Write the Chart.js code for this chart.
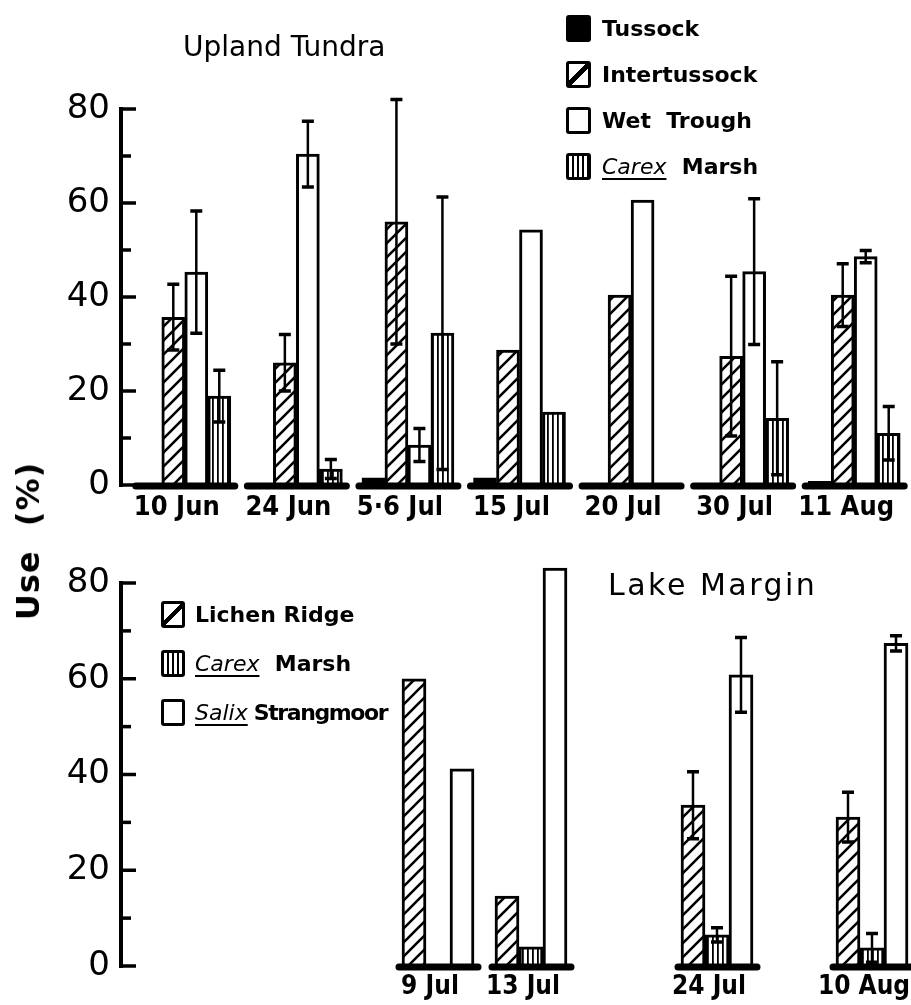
<!DOCTYPE html>
<html>
<head>
<meta charset="utf-8">
<script src="https://cdn.jsdelivr.net/npm/chart.js@4.4.1/dist/chart.umd.min.js"></script>
<style>
  html, body { margin: 0; padding: 0; background: #fff; }
  body { width: 911px; height: 1005px; position: relative; overflow: hidden; font-family: "DejaVu Sans", sans-serif; color: #000; }
  canvas { position: absolute; left: 0; }
  .title { position: absolute; white-space: nowrap; line-height: 1; }
  .legend { position: absolute; font-weight: bold; font-size: 22px; }
  .legend .row { display: flex; align-items: center; white-space: pre; }
  .sw { flex: none; display: inline-block; box-sizing: border-box; border: 3.5px solid #000; border-radius: 3px; background: #fff; }
  .sw.solid { background: #000; }
  .sw.hatch { background: linear-gradient(135deg, #fff 42%, #000 42%, #000 58%, #fff 58%); }
  .sw.lines { background: repeating-linear-gradient(90deg, #fff 0 3px, #000 3px 5px); }
  .it { font-style: italic; font-weight: normal; text-decoration: underline; text-decoration-thickness: 2px; text-underline-offset: 4px; }
  #ylab { position: absolute; left: 28px; top: 541px; transform: translate(-50%, -50%) rotate(-90deg); font-weight: bold; font-size: 32px; white-space: pre; letter-spacing: 1px; line-height: 1; }
</style>
</head>
<body>
<canvas id="upland" width="911" height="530" style="top:0"></canvas>
<canvas id="lake" width="911" height="485" style="top:520px"></canvas>

<div class="title" style="left:183px; top:33px; font-size:28px;">Upland Tundra</div>
<div class="title" style="left:608px; top:570px; font-size:30px; letter-spacing:2.5px;">Lake Margin</div>
<div id="ylab">Use  (%)</div>

<div class="legend" style="left:566px; top:5px;">
  <div class="row" style="height:46px"><span class="sw solid" style="width:25px;height:27px;margin-right:11px"></span>Tussock</div>
  <div class="row" style="height:46px"><span class="sw hatch" style="width:25px;height:27px;margin-right:11px"></span>Intertussock</div>
  <div class="row" style="height:46px"><span class="sw" style="width:25px;height:27px;margin-right:11px"></span>Wet  Trough</div>
  <div class="row" style="height:46px"><span class="sw lines" style="width:25px;height:27px;margin-right:11px"></span><span class="it">Carex</span>  Marsh</div>
</div>

<div class="legend" style="left:161px; top:590px;">
  <div class="row" style="height:49px"><span class="sw hatch" style="width:24px;height:27px;margin-right:10px"></span>Lichen Ridge</div>
  <div class="row" style="height:49px"><span class="sw lines" style="width:24px;height:27px;margin-right:10px"></span><span class="it">Carex</span>  Marsh</div>
  <div class="row" style="height:49px"><span class="sw" style="width:24px;height:27px;margin-right:10px"></span><span class="it">Salix</span><span style="letter-spacing:-1.4px; margin-left:6px">Strangmoor</span></div>
</div>

<script>
// Upland Tundra panel
const uplandDates = ['10 Jun', '24 Jun', '5·6 Jul', '15 Jul', '20 Jul', '30 Jul', '11 Aug'];
const tussock = [0, 0, 1.5, 1.5, 0, 0, 0.8];
const intertussock = [35.7, 26, 56, 28.7, 40.4, 27.4, 40.4];
const intertussockErr = [7, 6, 26, null, null, 17, 6.7];
const wetTrough = [45.3, 70.4, 8.5, 54.3, 60.6, 45.4, 48.6];
const wetTroughErr = [13, 7, 3.5, null, null, 15.5, 1.3];
const carexUpland = [18.9, 3.4, 32.3, 15.5, 0, 14.2, 11];
const carexUplandErr = [5.5, 2, 29, null, null, 12, 5.7];

// Lake Margin panel
const lakeDates = ['9 Jul', '13 Jul', '24 Jul', '10 Aug'];
const lichenRidge = [60, 14.6, 33.6, 31.1];
const lichenRidgeErr = [null, null, 7, 5.2];
const carexLake = [0, 4, 6.5, 3.8];
const carexLakeErr = [null, null, 1.5, 3];
const salixStrangmoor = [41.2, 83.1, 60.8, 67.4];
const salixStrangmoorErr = [null, null, 7.8, 1.6];

const yTicks = [0, 20, 40, 60, 80];

// lake margin dates sit on an uneven spacing: slot index per date on a finer category grid
const lakeSlots = [9, 12, 18, 23];
const lakeSlotCount = 24;

const DATE_FONT = "'DejaVu Sans Condensed', 'Liberation Sans Narrow', 'DejaVu Sans'";

function hatch() {
  const c = document.createElement('canvas');
  c.width = c.height = 14;
  const g = c.getContext('2d');
  g.fillStyle = '#fff';
  g.fillRect(0, 0, 14, 14);
  g.strokeStyle = '#000';
  g.lineWidth = 2.6;
  g.beginPath();
  g.moveTo(-1, 15); g.lineTo(15, -1);
  g.moveTo(-2, 2); g.lineTo(2, -2);
  g.moveTo(12, 16); g.lineTo(16, 12);
  g.stroke();
  return g.createPattern(c, 'repeat');
}

function vlines() {
  const c = document.createElement('canvas');
  c.width = 5; c.height = 5;
  const g = c.getContext('2d');
  g.fillStyle = '#fff';
  g.fillRect(0, 0, 5, 5);
  g.fillStyle = '#000';
  g.fillRect(2, 0, 1.8, 5);
  return g.createPattern(c, 'repeat');
}

const HATCH = hatch();
const VLINES = vlines();

// axis line, minor ticks, group baselines and error bars
const panelPlugin = {
  id: 'panel',
  afterDatasetsDraw(chart, args, opts) {
    const ctx = chart.ctx;
    const xs = chart.scales.x, ys = chart.scales.y;
    const y0 = ys.getPixelForValue(0);
    const nSets = chart.data.datasets.length;
    const half = nSets * opts.barW / 2;
    ctx.save();
    ctx.strokeStyle = '#000';
    ctx.lineCap = 'round';

    // baselines under each date group
    ctx.lineWidth = 7;
    chart.data.labels.forEach((lab, i) => {
      if (!lab) return;
      const cx = xs.getPixelForValue(i);
      ctx.beginPath();
      ctx.moveTo(cx - half - 3, y0 + 1);
      ctx.lineTo(cx + half + 4, y0 + 1);
      ctx.stroke();
    });

    // error bars
    chart.data.datasets.forEach((ds, di) => {
      if (!ds.errors) return;
      const meta = chart.getDatasetMeta(di);
      ds.data.forEach((v, i) => {
        const e = ds.errors[i];
        if (v == null || e == null) return;
        const x = meta.data[i].x;
        const yt = ys.getPixelForValue(v + e);
        const yb = ys.getPixelForValue(Math.max(v - e, 0));
        ctx.lineCap = 'butt';
        ctx.lineWidth = 2.5;
        ctx.beginPath();
        ctx.moveTo(x, yt); ctx.lineTo(x, yb);
        ctx.stroke();
        ctx.lineWidth = 3.5;
        ctx.beginPath();
        ctx.moveTo(x - 6, yt); ctx.lineTo(x + 6, yt);
        ctx.moveTo(x - 6, yb); ctx.lineTo(x + 6, yb);
        ctx.stroke();
      });
    });

    // y axis with inward ticks every 10
    const ax = opts.axisX;
    const yTop = ys.getPixelForValue(ys.max);
    ctx.lineCap = 'butt';
    ctx.lineWidth = 4;
    ctx.beginPath();
    ctx.moveTo(ax, y0 + 2);
    ctx.lineTo(ax, yTop - 2);
    ctx.stroke();
    ctx.lineWidth = 3.5;
    for (let v = ys.min; v <= ys.max; v += 10) {
      const py = ys.getPixelForValue(v);
      const len = v % 20 === 0 ? 15 : 10;
      ctx.beginPath();
      ctx.moveTo(ax - 2, py);
      ctx.lineTo(ax + len, py);
      ctx.stroke();
    }
    ctx.restore();
  }
};

function barSet(label, data, errors, fill) {
  return {
    label, data, errors,
    backgroundColor: fill,
    borderColor: '#000',
    borderWidth: 3,
    borderSkipped: 'bottom',
    clip: false
  };
}

function makeOptions(cfg) {
  return {
    responsive: false,
    animation: false,
    devicePixelRatio: 1,
    layout: { padding: { top: cfg.area.top, right: cfg.width - cfg.area.right, left: 0, bottom: 0 } },
    datasets: { bar: { barThickness: cfg.barW, grouped: true } },
    plugins: {
      legend: { display: false },
      tooltip: { enabled: false },
      panel: { axisX: 121, barW: cfg.barW }
    },
    scales: {
      x: {
        grid: { display: false, drawTicks: false },
        border: { display: false },
        ticks: {
          autoSkip: false, maxRotation: 0, color: '#000',
          padding: cfg.xPad, labelOffset: cfg.labelOffset,
          font: { family: DATE_FONT, size: cfg.xFont, weight: 'bold' }
        },
        afterFit(s) {
          s.height = cfg.xHeight;
          s.paddingLeft = 0; s.paddingRight = 0;
        }
      },
      y: {
        min: 0, max: 80,
        grid: { display: false, drawTicks: false },
        border: { display: false },
        afterBuildTicks(s) { s.ticks = yTicks.map(v => ({ value: v })); },
        ticks: {
          color: '#000', padding: cfg.area.left - 110,
          font: { family: 'DejaVu Sans', size: 34 }
        },
        afterFit(s) {
          s.width = cfg.yWidth;
          s.paddingTop = 0; s.paddingBottom = 0;
        }
      }
    }
  };
}

// nudge the fitted box sizes until the plot area lands where the figure has it
function pinArea(chart, cfg) {
  for (let k = 0; k < 4; k++) {
    const a = chart.chartArea;
    const dB = a.bottom - cfg.area.bottom;
    const dL = cfg.area.left - a.left;
    const dT = cfg.area.top - a.top;
    const dR = a.right - cfg.area.right;
    if (Math.abs(dB) + Math.abs(dL) + Math.abs(dT) + Math.abs(dR) < 0.5) break;
    cfg.xHeight += dB;
    cfg.yWidth += dL;
    const p = chart.options.layout.padding;
    p.top += dT;
    p.right += dR;
    chart.update();
  }
}

const uplandCfg = {
  width: 911, area: { left: 129, right: 910, top: 109, bottom: 485 },
  xHeight: 45, yWidth: 129, xPad: 7, xFont: 27, labelOffset: -8, barW: 23
};
const uplandChart = new Chart(document.getElementById('upland'), {
  type: 'bar',
  plugins: [panelPlugin],
  data: {
    labels: uplandDates,
    datasets: [
      barSet('Tussock', tussock, null, '#000'),
      barSet('Intertussock', intertussock, intertussockErr, HATCH),
      barSet('Wet Trough', wetTrough, wetTroughErr, '#fff'),
      barSet('Carex Marsh', carexUpland, carexUplandErr, VLINES)
    ]
  },
  options: makeOptions(uplandCfg)
});
pinArea(uplandChart, uplandCfg);

// spread the lake margin dates over their slots
const lakeLabels = Array(lakeSlotCount).fill('');
function spread(arr) {
  const out = Array(lakeSlotCount).fill(null);
  lakeSlots.forEach((s, i) => { out[s] = arr[i]; });
  return out;
}
lakeSlots.forEach((s, i) => { lakeLabels[s] = lakeDates[i]; });

const lakeCfg = {
  width: 911, area: { left: 143.5, right: 887.5, top: 63, bottom: 446 },
  xHeight: 39, yWidth: 143.5, xPad: 6, xFont: 26, labelOffset: -8, barW: 24
};
const lakeChart = new Chart(document.getElementById('lake'), {
  type: 'bar',
  plugins: [panelPlugin],
  data: {
    labels: lakeLabels,
    datasets: [
      barSet('Lichen Ridge', spread(lichenRidge), spread(lichenRidgeErr), HATCH),
      barSet('Carex Marsh', spread(carexLake), spread(carexLakeErr), VLINES),
      barSet('Salix Strangmoor', spread(salixStrangmoor), spread(salixStrangmoorErr), '#fff')
    ]
  },
  options: makeOptions(lakeCfg)
});
pinArea(lakeChart, lakeCfg);
</script>
</body>
</html>
